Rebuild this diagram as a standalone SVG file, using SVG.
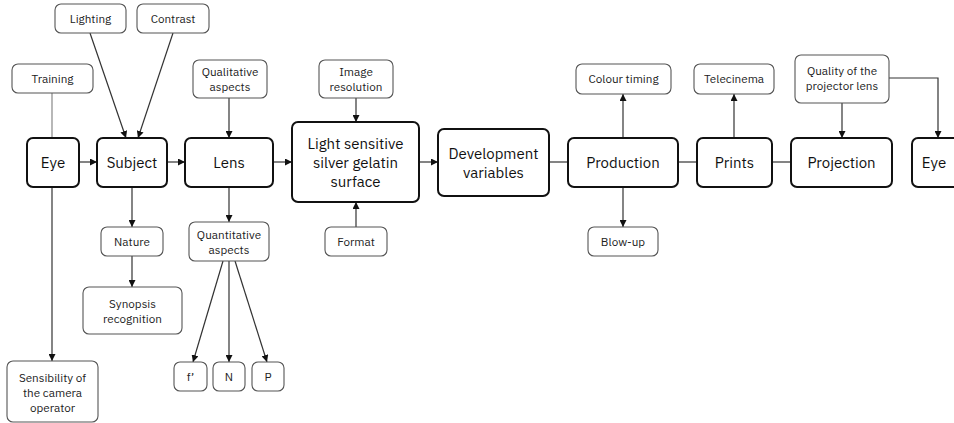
<svg xmlns="http://www.w3.org/2000/svg" width="954" height="423" viewBox="0 0 954 423">
<defs>
<marker id="ah" viewBox="0 0 10 10" refX="10" refY="5" markerWidth="7" markerHeight="7" markerUnits="userSpaceOnUse" orient="auto"><path d="M0,0 L10,5 L0,10 z" fill="#111"/></marker>
<style>
.main rect{fill:#fff;stroke:#111;stroke-width:2}
.sub rect{fill:#fff;stroke:#555;stroke-width:1.1}
.main text{font-family:"IBM Plex Sans","Noto Sans","Liberation Sans",sans-serif;font-size:15px;fill:#111;text-anchor:middle}
.sub text{font-family:"IBM Plex Sans","Noto Sans","Liberation Sans",sans-serif;font-size:11.7px;fill:#222;text-anchor:middle}
#connectors line,#connectors polyline{stroke:#333;stroke-width:1.2;fill:none}
#connectors .a{marker-end:url(#ah)}
#connectors .g{stroke:#888}
</style>
</defs>
<rect width="954" height="423" fill="#fff"/>
<g id="connectors">
<line class="g" x1="52" y1="93" x2="52" y2="138"/>
<line class="a" x1="52" y1="187" x2="52" y2="361"/>
<line class="a" x1="79" y1="162" x2="97" y2="162"/>
<line class="a" x1="90" y1="33" x2="126" y2="138"/>
<line class="a" x1="173" y1="33" x2="138" y2="138"/>
<line class="a" x1="132" y1="187" x2="132" y2="227"/>
<line class="a" x1="132" y1="256" x2="132" y2="287"/>
<line class="a" x1="167" y1="162" x2="185" y2="162"/>
<line class="a" x1="229" y1="98" x2="229" y2="138"/>
<line class="a" x1="229" y1="187" x2="229" y2="222"/>
<line class="a" x1="223" y1="261" x2="193" y2="362"/>
<line class="a" x1="229" y1="261" x2="229" y2="362"/>
<line class="a" x1="235" y1="261" x2="267" y2="362"/>
<line class="a" x1="273" y1="162" x2="292" y2="162"/>
<line class="a" x1="356" y1="98" x2="356" y2="122"/>
<line class="a" x1="356" y1="227" x2="356" y2="202"/>
<line class="a" x1="419" y1="162" x2="438" y2="162"/>
<line x1="549" y1="162" x2="568" y2="162"/>
<line class="a" x1="623" y1="138" x2="623" y2="94"/>
<line class="a" x1="623" y1="187" x2="623" y2="227"/>
<line x1="678" y1="162" x2="697" y2="162"/>
<line class="a" x1="734" y1="138" x2="734" y2="94"/>
<line x1="772" y1="162" x2="791" y2="162"/>
<line class="a" x1="842" y1="103" x2="842" y2="138"/>
<polyline class="a" points="889,78 938,78 938,138"/>
</g>
<g id="lighting" class="sub"><rect x="55" y="4" width="71" height="29" rx="6"/><text x="90.5" y="22.5">Lighting</text></g>
<g id="contrast" class="sub"><rect x="137" y="4" width="72" height="29" rx="6"/><text x="173" y="22.5">Contrast</text></g>
<g id="training" class="sub"><rect x="12" y="64" width="81" height="29" rx="6"/><text x="52.5" y="82.5">Training</text></g>
<g id="qualitative" class="sub"><rect x="193" y="60" width="74" height="38" rx="6"/><text x="230" y="76">Qualitative</text><text x="230" y="91">aspects</text></g>
<g id="imageres" class="sub"><rect x="319" y="60" width="74" height="38" rx="6"/><text x="356" y="76">Image</text><text x="356" y="91">resolution</text></g>
<g id="format" class="sub"><rect x="325" y="227" width="62" height="29" rx="6"/><text x="356" y="245.5">Format</text></g>
<g id="colourtiming" class="sub"><rect x="576" y="64" width="95" height="30" rx="6"/><text x="623.5" y="83">Colour timing</text></g>
<g id="blowup" class="sub"><rect x="588" y="227" width="70" height="29" rx="6"/><text x="623" y="245.5">Blow-up</text></g>
<g id="telecinema" class="sub"><rect x="694" y="64" width="80" height="30" rx="6"/><text x="734" y="83">Telecinema</text></g>
<g id="quality" class="sub"><rect x="795" y="55" width="94" height="48" rx="6"/><text x="842" y="75">Quality of the</text><text x="842" y="90">projector lens</text></g>
<g id="nature" class="sub"><rect x="101" y="227" width="62" height="29" rx="6"/><text x="132" y="245.5">Nature</text></g>
<g id="synopsis" class="sub"><rect x="83" y="287" width="99" height="47" rx="6"/><text x="132.5" y="308">Synopsis</text><text x="132.5" y="323">recognition</text></g>
<g id="quantitative" class="sub"><rect x="189" y="222" width="80" height="39" rx="6"/><text x="229" y="239">Quantitative</text><text x="229" y="254">aspects</text></g>
<g id="sensibility" class="sub"><rect x="7" y="361" width="91" height="61" rx="6"/><text x="52.5" y="382">Sensibility of</text><text x="52.5" y="397">the camera</text><text x="52.5" y="412">operator</text></g>
<g id="f" class="sub"><rect x="174" y="362" width="33" height="29" rx="6"/><text x="190.5" y="380.5">f’</text></g>
<g id="n" class="sub"><rect x="213" y="362" width="32" height="29" rx="6"/><text x="229" y="380.5">N</text></g>
<g id="p" class="sub"><rect x="252" y="362" width="32" height="29" rx="6"/><text x="268" y="380.5">P</text></g>
<g id="eye1" class="main"><rect x="27" y="138" width="52" height="49" rx="6"/><text x="53" y="167.5">Eye</text></g>
<g id="subject" class="main"><rect x="97" y="138" width="70" height="49" rx="6"/><text x="132" y="167.5">Subject</text></g>
<g id="lens" class="main"><rect x="185" y="138" width="88" height="49" rx="6"/><text x="229" y="167.5">Lens</text></g>
<g id="silver" class="main"><rect x="292" y="122" width="127" height="80" rx="6"/><text x="355.5" y="149">Light sensitive</text><text x="355.5" y="168">silver gelatin</text><text x="355.5" y="187">surface</text></g>
<g id="development" class="main"><rect x="438" y="129" width="111" height="67" rx="6"/><text x="493.5" y="159">Development</text><text x="493.5" y="178">variables</text></g>
<g id="production" class="main"><rect x="568" y="138" width="110" height="49" rx="6"/><text x="623" y="167.5">Production</text></g>
<g id="prints" class="main"><rect x="697" y="138" width="75" height="49" rx="6"/><text x="734.5" y="167.5">Prints</text></g>
<g id="projection" class="main"><rect x="791" y="138" width="101" height="49" rx="6"/><text x="841.5" y="167.5">Projection</text></g>
<g id="eye2" class="main"><rect x="912" y="138" width="60" height="49" rx="6"/><text x="934" y="167.5">Eye</text></g>
</svg>
